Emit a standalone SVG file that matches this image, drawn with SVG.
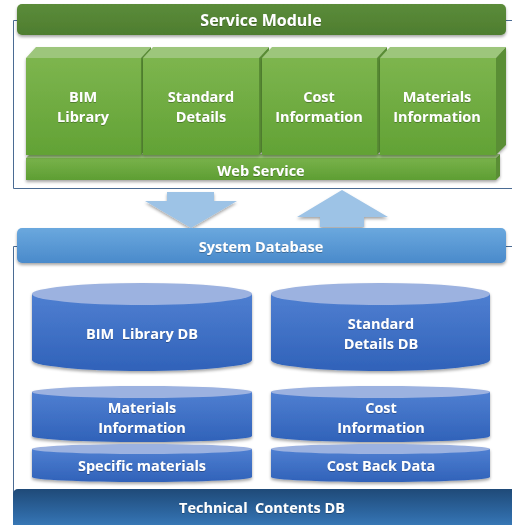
<svg xmlns="http://www.w3.org/2000/svg" width="512" height="525" viewBox="0 0 512 525">
  <defs>
    <linearGradient id="gDark" x1="0" y1="0" x2="0" y2="1">
      <stop offset="0" stop-color="#5b8c3a"/>
      <stop offset="1" stop-color="#4e7d2f"/>
    </linearGradient>
    <linearGradient id="gFront" x1="0" y1="0" x2="0" y2="1">
      <stop offset="0" stop-color="#7db54e"/>
      <stop offset="1" stop-color="#62a235"/>
    </linearGradient>
    <linearGradient id="gWeb" x1="0" y1="0" x2="0" y2="1">
      <stop offset="0" stop-color="#78b24a"/>
      <stop offset="1" stop-color="#5e9e33"/>
    </linearGradient>
    <linearGradient id="gSys" x1="0" y1="0" x2="0" y2="1">
      <stop offset="0" stop-color="#6aa8de"/>
      <stop offset="1" stop-color="#4a8acb"/>
    </linearGradient>
    <linearGradient id="gCyl" x1="0" y1="0" x2="0" y2="1">
      <stop offset="0" stop-color="#4f7fd1"/>
      <stop offset="1" stop-color="#3062b9"/>
    </linearGradient>
    <linearGradient id="gTech" x1="0" y1="0" x2="0" y2="1">
      <stop offset="0" stop-color="#1f4a78"/>
      <stop offset="0.6" stop-color="#2f6aa6"/>
      <stop offset="1" stop-color="#3f84c4"/>
    </linearGradient>
    <filter id="sh" x="-10%" y="-20%" width="120%" height="150%">
      <feDropShadow dx="0" dy="2" stdDeviation="1.5" flood-color="#000" flood-opacity="0.35"/>
    </filter>
    <filter id="tsh" x="-10%" y="-30%" width="120%" height="160%">
      <feDropShadow dx="0" dy="0.6" stdDeviation="0.6" flood-color="#000" flood-opacity="0.45"/>
    </filter>
  </defs>
  <style>
    .frame { fill: none; stroke: #4a6b93; stroke-width: 1; }
    .lbl { font-family: "Open Sans", "Liberation Sans", sans-serif; font-weight: 700; font-size: 14.5px; fill: #ffffff; text-anchor: middle; dominant-baseline: central; white-space: pre; }
    .big { font-size: 16px; }
    .top { fill: #9dc67c; }
    .side { fill: #5a8e35; }
    .front { fill: url(#gFront); }
    .arrow { fill: #9dc3e6; }
    .cyl { fill: url(#gCyl); }
    .cap { fill: #9cb2e0; }
  </style>

  <!-- frame lines -->
  <polyline class="frame" points="512,20.5 13.5,20.5 13.5,188.5 512,188.5"/>
  <polyline class="frame" points="512,246.5 13.5,246.5 13.5,525"/>

  <!-- service module header -->
  <g id="service-module">
    <rect x="17" y="4" width="489" height="31" rx="5" fill="url(#gDark)" filter="url(#sh)"/>
    <text class="lbl big" x="261" y="20" filter="url(#tsh)">Service Module</text>
  </g>

  <!-- web service base -->
  <g id="web-service" filter="url(#sh)">
    <polygon class="top" points="26,158 30,154 500,154 496,158"/>
    <polygon class="side" points="496,158 500,154 500,176 496,180"/>
    <rect x="26" y="158" width="470" height="22" fill="url(#gWeb)"/>
    <text class="lbl" x="261" y="170" filter="url(#tsh)">Web Service</text>
  </g>

  <!-- module cubes -->
  <g id="bim-library" filter="url(#sh)">
    <polygon class="top" points="26,58 36,47 151,47 141,58"/>
    <polygon class="side" points="141,58 151,47 151,145 141,155"/>
    <rect class="front" x="26" y="58" width="115" height="97"/>
    <text class="lbl" x="83" y="96" filter="url(#tsh)">BIM</text>
    <text class="lbl" x="83" y="116" filter="url(#tsh)">Library</text>
  </g>
  <g id="standard-details" filter="url(#sh)">
    <polygon class="top" points="143,58 153,47 269,47 259,58"/>
    <polygon class="side" points="259,58 269,47 269,145 259,155"/>
    <rect class="front" x="143" y="58" width="116" height="97"/>
    <text class="lbl" x="201" y="96" filter="url(#tsh)">Standard</text>
    <text class="lbl" x="201" y="116" filter="url(#tsh)">Details</text>
  </g>
  <g id="cost-information" filter="url(#sh)">
    <polygon class="top" points="262,58 272,47 387,47 377,58"/>
    <polygon class="side" points="377,58 387,47 387,145 377,155"/>
    <rect class="front" x="262" y="58" width="115" height="97"/>
    <text class="lbl" x="319" y="96" filter="url(#tsh)">Cost</text>
    <text class="lbl" x="319" y="116" filter="url(#tsh)">Information</text>
  </g>
  <g id="materials-information" filter="url(#sh)">
    <polygon class="top" points="380,58 390,47 506,47 496,58"/>
    <polygon class="side" points="496,58 506,47 506,145 496,155"/>
    <rect class="front" x="380" y="58" width="116" height="97"/>
    <text class="lbl" x="437" y="96" filter="url(#tsh)">Materials</text>
    <text class="lbl" x="437" y="116" filter="url(#tsh)">Information</text>
  </g>

  <!-- data flow arrows -->
  <g id="connectors" filter="url(#sh)">
    <polygon class="arrow" points="167,192 214,192 214,201 237,201 191,228 145,201 167,201"/>
    <polygon class="arrow" points="342,190 388,217 364,217 364,227 320,227 320,217 297,217"/>
  </g>

  <!-- system database bar -->
  <g id="system-database">
    <rect x="17" y="228" width="489" height="35" rx="5" fill="url(#gSys)" filter="url(#sh)"/>
    <text class="lbl" x="261" y="246" filter="url(#tsh)">System Database</text>
  </g>

  <!-- database cylinders -->
  <g id="bim-library-db" filter="url(#sh)">
    <path class="cyl" d="M32,294 L32,360 A110,11 0 0 0 252,360 L252,294 Z"/>
    <ellipse class="cap" cx="142" cy="294" rx="110" ry="11"/>
    <text class="lbl" x="142" y="333" filter="url(#tsh)">BIM  Library DB</text>
  </g>
  <g id="standard-details-db" filter="url(#sh)">
    <path class="cyl" d="M271,294 L271,360 A109.5,11 0 0 0 490,360 L490,294 Z"/>
    <ellipse class="cap" cx="380.5" cy="294" rx="109.5" ry="11"/>
    <text class="lbl" x="381" y="323" filter="url(#tsh)">Standard</text>
    <text class="lbl" x="381" y="343" filter="url(#tsh)">Details DB</text>
  </g>
  <g id="materials-information-db" filter="url(#sh)">
    <path class="cyl" d="M32,392 L32,436 A110,6 0 0 0 252,436 L252,392 Z"/>
    <ellipse class="cap" cx="142" cy="392" rx="110" ry="6"/>
    <text class="lbl" x="142" y="407" filter="url(#tsh)">Materials</text>
    <text class="lbl" x="142" y="427" filter="url(#tsh)">Information</text>
  </g>
  <g id="cost-information-db" filter="url(#sh)">
    <path class="cyl" d="M271,392 L271,436 A109.5,6 0 0 0 490,436 L490,392 Z"/>
    <ellipse class="cap" cx="380.5" cy="392" rx="109.5" ry="6"/>
    <text class="lbl" x="381" y="407" filter="url(#tsh)">Cost</text>
    <text class="lbl" x="381" y="427" filter="url(#tsh)">Information</text>
  </g>
  <g id="specific-materials-db" filter="url(#sh)">
    <path class="cyl" d="M32,449 L32,477 A110,5 0 0 0 252,477 L252,449 Z"/>
    <ellipse class="cap" cx="142" cy="449" rx="110" ry="5"/>
    <text class="lbl" x="142" y="465" filter="url(#tsh)">Specific materials</text>
  </g>
  <g id="cost-back-data-db" filter="url(#sh)">
    <path class="cyl" d="M271,449 L271,477 A109.5,5 0 0 0 490,477 L490,449 Z"/>
    <ellipse class="cap" cx="380.5" cy="449" rx="109.5" ry="5"/>
    <text class="lbl" x="381" y="465" filter="url(#tsh)">Cost Back Data</text>
  </g>

  <!-- technical contents base bar -->
  <g id="technical-contents-db">
    <rect x="13" y="489" width="510" height="45" rx="5" fill="url(#gTech)"/>
    <text class="lbl" x="262" y="507" filter="url(#tsh)">Technical  Contents DB</text>
  </g>
</svg>
